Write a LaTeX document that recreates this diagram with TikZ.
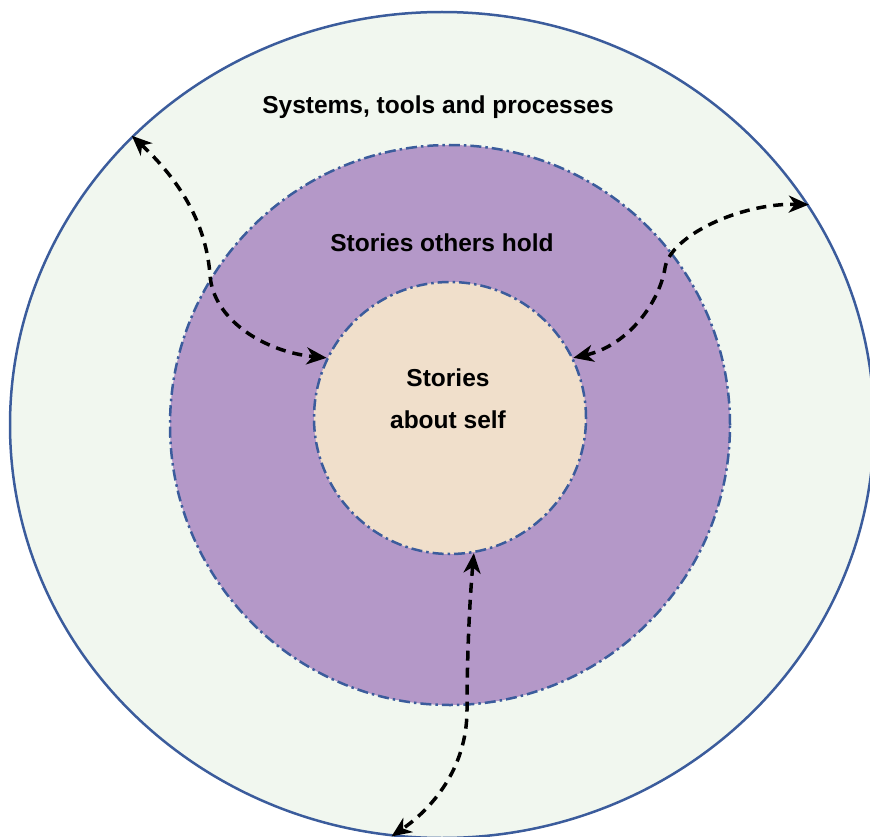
\documentclass[tikz,border=0pt]{standalone}
\usepackage{fontspec}
\setmainfont{Liberation Sans}
\usetikzlibrary{shapes.geometric,arrows.meta}
\definecolor{outerfill}{HTML}{F1F7EF}
\definecolor{midfill}{HTML}{B498C8}
\definecolor{innerfill}{HTML}{F0DFCB}
\definecolor{rimblue}{HTML}{3B5C9C}
\tikzset{
  ring/.style={draw=rimblue, line width=2.5pt, inner sep=0pt},
  dashdotrim/.style={ring, dash pattern=on 11pt off 4pt on 2.5pt off 4pt},
  label/.style={font=\bfseries\fontsize{24.5}{29}\selectfont, text=black, inner sep=0pt},
  flow/.style={draw=black, line width=3.5pt, dash pattern=on 10pt off 7pt,
    {Stealth[length=20pt,width=17pt,inset=6pt]}-{Stealth[length=20pt,width=17pt,inset=6pt]}}
}
\begin{document}
\begin{tikzpicture}[x=1pt,y=-1pt]
\useasboundingbox (0,0) rectangle (870,837);
\node[ring, ellipse, fill=outerfill, minimum width=864pt, minimum height=826pt] (outer) at (442,425) {};
\node[dashdotrim, circle, fill=midfill, minimum size=560pt] (mid) at (450,425) {};
\node[dashdotrim, circle, fill=innerfill, minimum size=272pt] (inner) at (450,418) {};
\node[label] (t1) at (438,107) {Systems, tools and processes};
\node[label] (t2) at (442,243) {Stories others hold};
\node[label] (t3) at (448,378) {Stories};
\node[label] (t4) at (448,420) {about self};
\coordinate (lm) at (210,275);
\coordinate (rm) at (665,268);
\coordinate (bm) at (467,710);
\draw[flow] (outer.137) .. controls (190,190) and (207,235) .. (lm)
  .. controls (213,320) and (265,352) .. (inner.154);
\draw[flow] (inner.26) .. controls (630,345) and (660,300) .. (rm)
  .. controls (670,236) and (740,203) .. (outer.31);
\draw[flow] (inner.-80) .. controls (468,620) and (467,680) .. (bm)
  .. controls (467,770) and (430,810) .. (outer.-97);
\end{tikzpicture}
\end{document}
